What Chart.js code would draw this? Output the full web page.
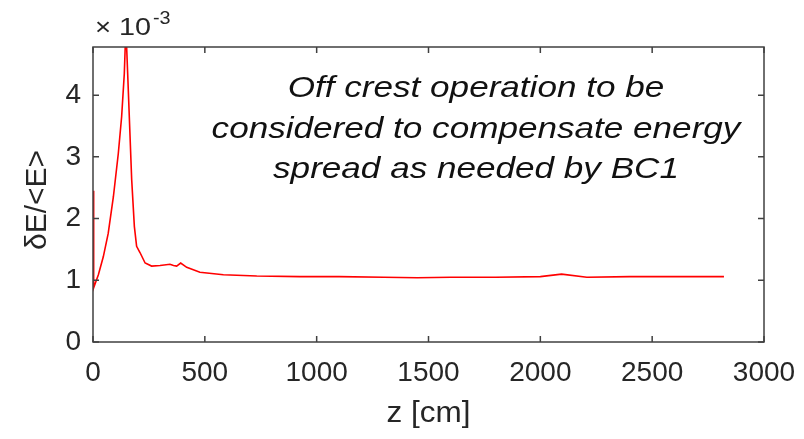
<!DOCTYPE html>
<html>
<head>
<meta charset="utf-8">
<script src="https://cdn.jsdelivr.net/npm/chart.js@4"></script>
<style>
  html, body { margin: 0; padding: 0; background: #fff; }
  #wrap { width: 804px; height: 439px; }
</style>
</head>
<body>
<div id="wrap"><canvas id="spreadChart" width="804" height="439"></canvas></div>
<script>
// Position along the linac [cm]
const zPos = [0, 2, 4, 24, 46, 68, 91, 113, 128, 140, 147, 155, 173, 185, 195, 210, 233, 262,
    300, 344, 360, 374, 392, 419, 478, 583, 732, 925, 1100, 1300, 1450, 1600, 1800, 2000,
    2095, 2208, 2400, 2600, 2821];
// Relative energy spread dE/<E>, in units of 1e-3
const spread = [2.45, 1.5, 0.88, 1.09, 1.38, 1.76, 2.35, 3.05, 3.65, 4.35, 5.1, 4.35, 2.63, 1.87,
    1.55, 1.45, 1.28, 1.23, 1.24, 1.26, 1.24, 1.23, 1.28, 1.21, 1.13, 1.09, 1.07, 1.06, 1.06,
    1.05, 1.04, 1.05, 1.05, 1.06, 1.10, 1.05, 1.06, 1.06, 1.06];
const xTicks = [0, 500, 1000, 1500, 2000, 2500, 3000];
const yTicks = [0, 1, 2, 3, 4];
const noteLines = ['Off crest operation to be', 'considered to compensate energy', 'spread as needed by BC1'];

const axisColor = '#404040';
const textColor = '#262626';
const FONT = '"Liberation Sans", Arial, sans-serif';

// text drawn a little wider than the font's own proportions
function wideText(ctx, text, x, y, sx) {
    ctx.save();
    ctx.translate(x, y);
    ctx.scale(sx, 1);
    ctx.fillText(text, 0, 0);
    ctx.restore();
}

// Box, inward ticks, exponent, axis titles and the note
const decorations = {
    id: 'decorations',
    afterDatasetsDraw(chart) {
        const { ctx, chartArea: a, scales: { x, y } } = chart;
        ctx.save();
        ctx.strokeStyle = axisColor;
        ctx.lineWidth = 1.5;
        ctx.strokeRect(a.left, a.top, a.right - a.left, a.bottom - a.top);
        const len = 6;
        ctx.beginPath();
        xTicks.forEach(v => {
            const px = x.getPixelForValue(v);
            ctx.moveTo(px, a.bottom); ctx.lineTo(px, a.bottom - len);
            ctx.moveTo(px, a.top); ctx.lineTo(px, a.top + len);
        });
        yTicks.forEach(v => {
            const py = y.getPixelForValue(v);
            ctx.moveTo(a.left, py); ctx.lineTo(a.left + len, py);
            ctx.moveTo(a.right, py); ctx.lineTo(a.right - len, py);
        });
        ctx.stroke();

        // x10^-3 multiplier
        ctx.fillStyle = textColor;
        ctx.textBaseline = 'alphabetic';
        ctx.textAlign = 'left';
        ctx.font = '24px ' + FONT;
        wideText(ctx, '\u00d7', 95, 35, 1.15);
        wideText(ctx, '10', 119, 35, 1.2);
        ctx.font = '18px ' + FONT;
        wideText(ctx, '-3', 153, 24, 1.1);

        // axis titles
        ctx.font = '30px ' + FONT;
        ctx.textAlign = 'center';
        wideText(ctx, 'z [cm]', (a.left + a.right) / 2, 422, 1.05);
        ctx.save();
        ctx.translate(46, 200);
        ctx.rotate(-Math.PI / 2);
        ctx.fillText('\u03b4E/<E>', 0, 0);
        ctx.restore();

        // note
        ctx.fillStyle = '#111';
        ctx.font = 'italic 30px ' + FONT;
        noteLines.forEach((t, i) => wideText(ctx, t, 476, 97 + i * 40.5, 1.17));
        ctx.restore();
    }
};

new Chart(document.getElementById('spreadChart'), {
    type: 'line',
    data: {
        datasets: [{
            data: zPos.map((z, i) => ({ x: z, y: spread[i] })),
            borderColor: 'rgb(255, 0, 0)',
            borderWidth: 1.6,
            pointRadius: 0,
            tension: 0,
            fill: false
        }]
    },
    options: {
        responsive: false,
        animation: false,
        events: [],
        layout: { padding: { left: 0, top: 47, right: 40, bottom: 0 } },
        plugins: { legend: { display: false }, tooltip: { enabled: false } },
        scales: {
            x: {
                type: 'linear',
                min: 0,
                max: 3000,
                afterBuildTicks: s => { s.ticks = xTicks.map(v => ({ value: v })); },
                afterFit: s => { s.height = 97; s.paddingLeft = 0; s.paddingRight = 0; },
                grid: { display: false, drawTicks: false },
                border: { display: false },
                ticks: {
                    color: textColor, font: { family: FONT, size: 28 }, padding: 14, maxRotation: 0,
                    callback: v => String(v)
                }
            },
            y: {
                type: 'linear',
                min: 0,
                max: 4.78,
                afterBuildTicks: s => { s.ticks = yTicks.map(v => ({ value: v })); },
                afterFit: s => { s.width = 93; s.paddingTop = 0; s.paddingBottom = 0; },
                grid: { display: false, drawTicks: false },
                border: { display: false },
                ticks: { color: textColor, font: { family: FONT, size: 28 }, padding: 12, callback: v => String(v) }
            }
        }
    },
    plugins: [decorations]
});
</script>
</body>
</html>
